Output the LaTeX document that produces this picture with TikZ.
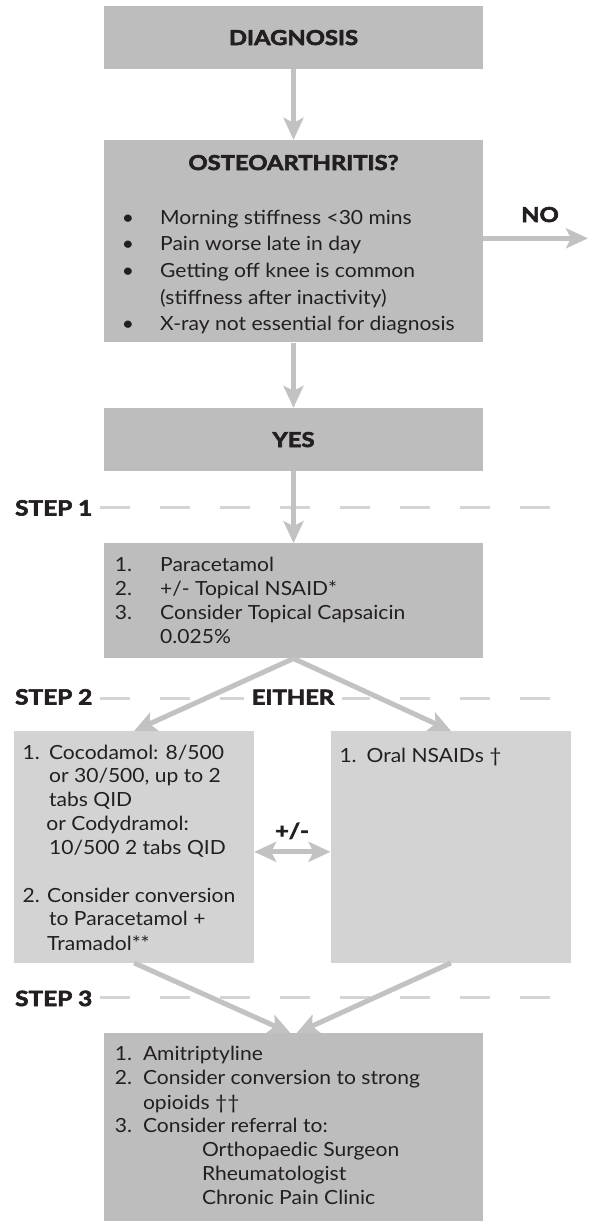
\documentclass[tikz,border=0pt]{standalone}
\usepackage{fontspec}
\setmainfont{Lato}[FakeStretch=1.08]
\newfontfamily\headfont{Lato}[FakeStretch=1.16, BoldFeatures={FakeBold=3}]
\usetikzlibrary{arrows.meta}
\definecolor{boxdark}{HTML}{BDBDBD}
\definecolor{boxlight}{HTML}{D3D3D3}
\definecolor{arrgray}{HTML}{C2C2C2}
\definecolor{dashgray}{HTML}{D4D4D4}
\definecolor{ink}{HTML}{231F20}
\newcommand{\bodyfs}{\fontsize{19.5}{23}\selectfont}
\newcommand{\headfs}{\headfont\fontsize{20.5}{23}\selectfont\bfseries}
\newcommand{\stepfs}{\headfont\fontsize{21}{24}\selectfont\bfseries}
\begin{document}
\begin{tikzpicture}[x=1pt,y=-1pt,
 darkbox/.style={fill=boxdark, draw=none, inner sep=0pt, minimum width=379pt},
 lightbox/.style={fill=boxlight, draw=none, inner sep=0pt, minimum height=231.7pt},
 body/.style={anchor=base west, inner sep=0pt, text=ink, font=\bodyfs},
 bul/.style={anchor=base, inner sep=0pt, text=ink, font=\bodyfs},
 head/.style={anchor=base, inner sep=0pt, text=ink, font=\headfs},
 steplab/.style={anchor=base west, inner sep=0pt, text=ink, font=\stepfs},
 flow/.style={draw=arrgray, line width=5pt, -{Stealth[length=22pt,width=20pt,inset=5pt]}},
 twoway/.style={draw=arrgray, line width=5pt, {Stealth[length=22pt,width=20pt,inset=5pt]}-{Stealth[length=22pt,width=20pt,inset=5pt]}},
 stepline/.style={draw=dashgray, line width=3pt, dash pattern=on 30pt off 30pt},
]
\useasboundingbox (0,0) rectangle (589,1224);

% boxes
\node[darkbox, minimum height=62.7pt] (diag) at (293.5,37.35) {};
\node[darkbox, minimum height=202.3pt] (oa) at (293.5,241.15) {};
\node[darkbox, minimum height=62.7pt] (yes) at (293.5,439.35) {};
\node[darkbox, minimum height=115pt] (s1) at (293.5,600.8) {};
\node[lightbox, minimum width=239.7pt] (left) at (134.15,846.85) {};
\node[lightbox, minimum width=240.5pt] (right) at (450.95,846.85) {};
\node[darkbox, minimum height=187.7pt] (s3) at (293.5,1127.15) {};

% step lines
\coordinate (d1a) at (100,507.3); \coordinate (d1b) at (550,507.3);
\coordinate (d2a) at (100,698.3); \coordinate (d2b) at (550,698.3);
\coordinate (d3a) at (100,997.3); \coordinate (d3b) at (550,997.3);
\draw[stepline] (d1a) -- (d1b);
\draw[stepline] (d2a) -- (d2b);
\draw[stepline] (d3a) -- (d3b);
\node[steplab] (st1) at (15,515.5) {STEP 1};
\node[steplab] (st2) at (15,704.5) {STEP 2};
\node[steplab] (st3) at (15,1006) {STEP 3};
\node[head, fill=white, inner xsep=8pt, inner ysep=3pt] (either) at (293,704.5) {EITHER};

% connectors
\coordinate (noend) at (588,238.3);
\draw[flow] (diag.south) -- (oa.north);
\draw[flow] (oa.east |- noend) -- (noend);
\draw[flow] (oa.south) -- (yes.north);
\draw[flow] (yes.south) -- (s1.north);
\draw[flow] (s1.south) -- (left.north);
\draw[flow] (s1.south) -- (right.north);
\draw[twoway] ([yshift=-5pt]left.east) -- ([yshift=-5pt]right.west);
\draw[flow] (left.south) -- ([xshift=-3pt]s3.north);
\draw[flow] (right.south) -- ([xshift=3pt]s3.north);

% texts
\node[head] (diagt) at (293.5,45) {DIAGNOSIS};
\node[head] (oat) at (293.5,170) {OSTEOARTHRITIS?};
\node[bul] (b1) at (128,224) {•};
\node[bul] (b2) at (128,250) {•};
\node[bul] (b3) at (128,277) {•};
\node[bul] (b4) at (128,330) {•};
\node[body] (oa1) at (160,224) {Morning stiffness <30 mins};
\node[body] (oa2) at (160,250) {Pain worse late in day};
\node[body] (oa3) at (160,277) {Getting off knee is common};
\node[body] (oa4) at (160,304) {(stiffness after inactivity)};
\node[body] (oa5) at (160,330) {X-ray not essential for diagnosis};
\node[head] (not) at (540,222) {NO};
\node[head] (yest) at (293.5,447) {YES};

\node[body] (n11) at (114.6,571) {1.};
\node[body] (n12) at (114.6,595) {2.};
\node[body] (n13) at (114.6,619) {3.};
\node[body] (s1a) at (160,571) {Paracetamol};
\node[body] (s1b) at (160,595) {+/- Topical NSAID*};
\node[body] (s1c) at (160,619) {Consider Topical Capsaicin};
\node[body] (s1d) at (160,643) {0.025\%};

\node[body] (n21) at (22.5,759) {1.};
\node[body] (l1) at (48.9,759) {Cocodamol: 8/500};
\node[body] (l2) at (48.9,782) {or 30/500, up to 2};
\node[body] (l3) at (48.9,806) {tabs QID};
\node[body] (l4) at (46.2,830) {or Codydramol:};
\node[body] (l5) at (48.9,854) {10/500 2 tabs QID};
\node[body] (n22) at (22.5,902) {2.};
\node[body] (l6) at (47,902) {Consider conversion};
\node[body] (l7) at (48.9,925.5) {to Paracetamol +};
\node[body] (l8) at (47,950) {Tramadol**};
\node[body] (n23) at (339.3,762) {1.};
\node[body] (r1) at (366.4,762) {Oral NSAIDs †};
\node[head] (pm) at (292,838) {+/-};

\node[body] (n31) at (114.6,1060) {1.};
\node[body] (n32) at (114.6,1084.5) {2.};
\node[body] (n33) at (114.6,1132) {3.};
\node[body] (b31) at (142.8,1060) {Amitriptyline};
\node[body] (b32) at (142.8,1084.5) {Consider conversion to strong};
\node[body] (b33) at (142.8,1109) {opioids ††};
\node[body] (b34) at (142.8,1132) {Consider referral to:};
\node[body] (b35) at (201.8,1156.5) {Orthopaedic Surgeon};
\node[body] (b36) at (201.8,1180.5) {Rheumatologist};
\node[body] (b37) at (201.8,1204) {Chronic Pain Clinic};
\end{tikzpicture}
\end{document}
